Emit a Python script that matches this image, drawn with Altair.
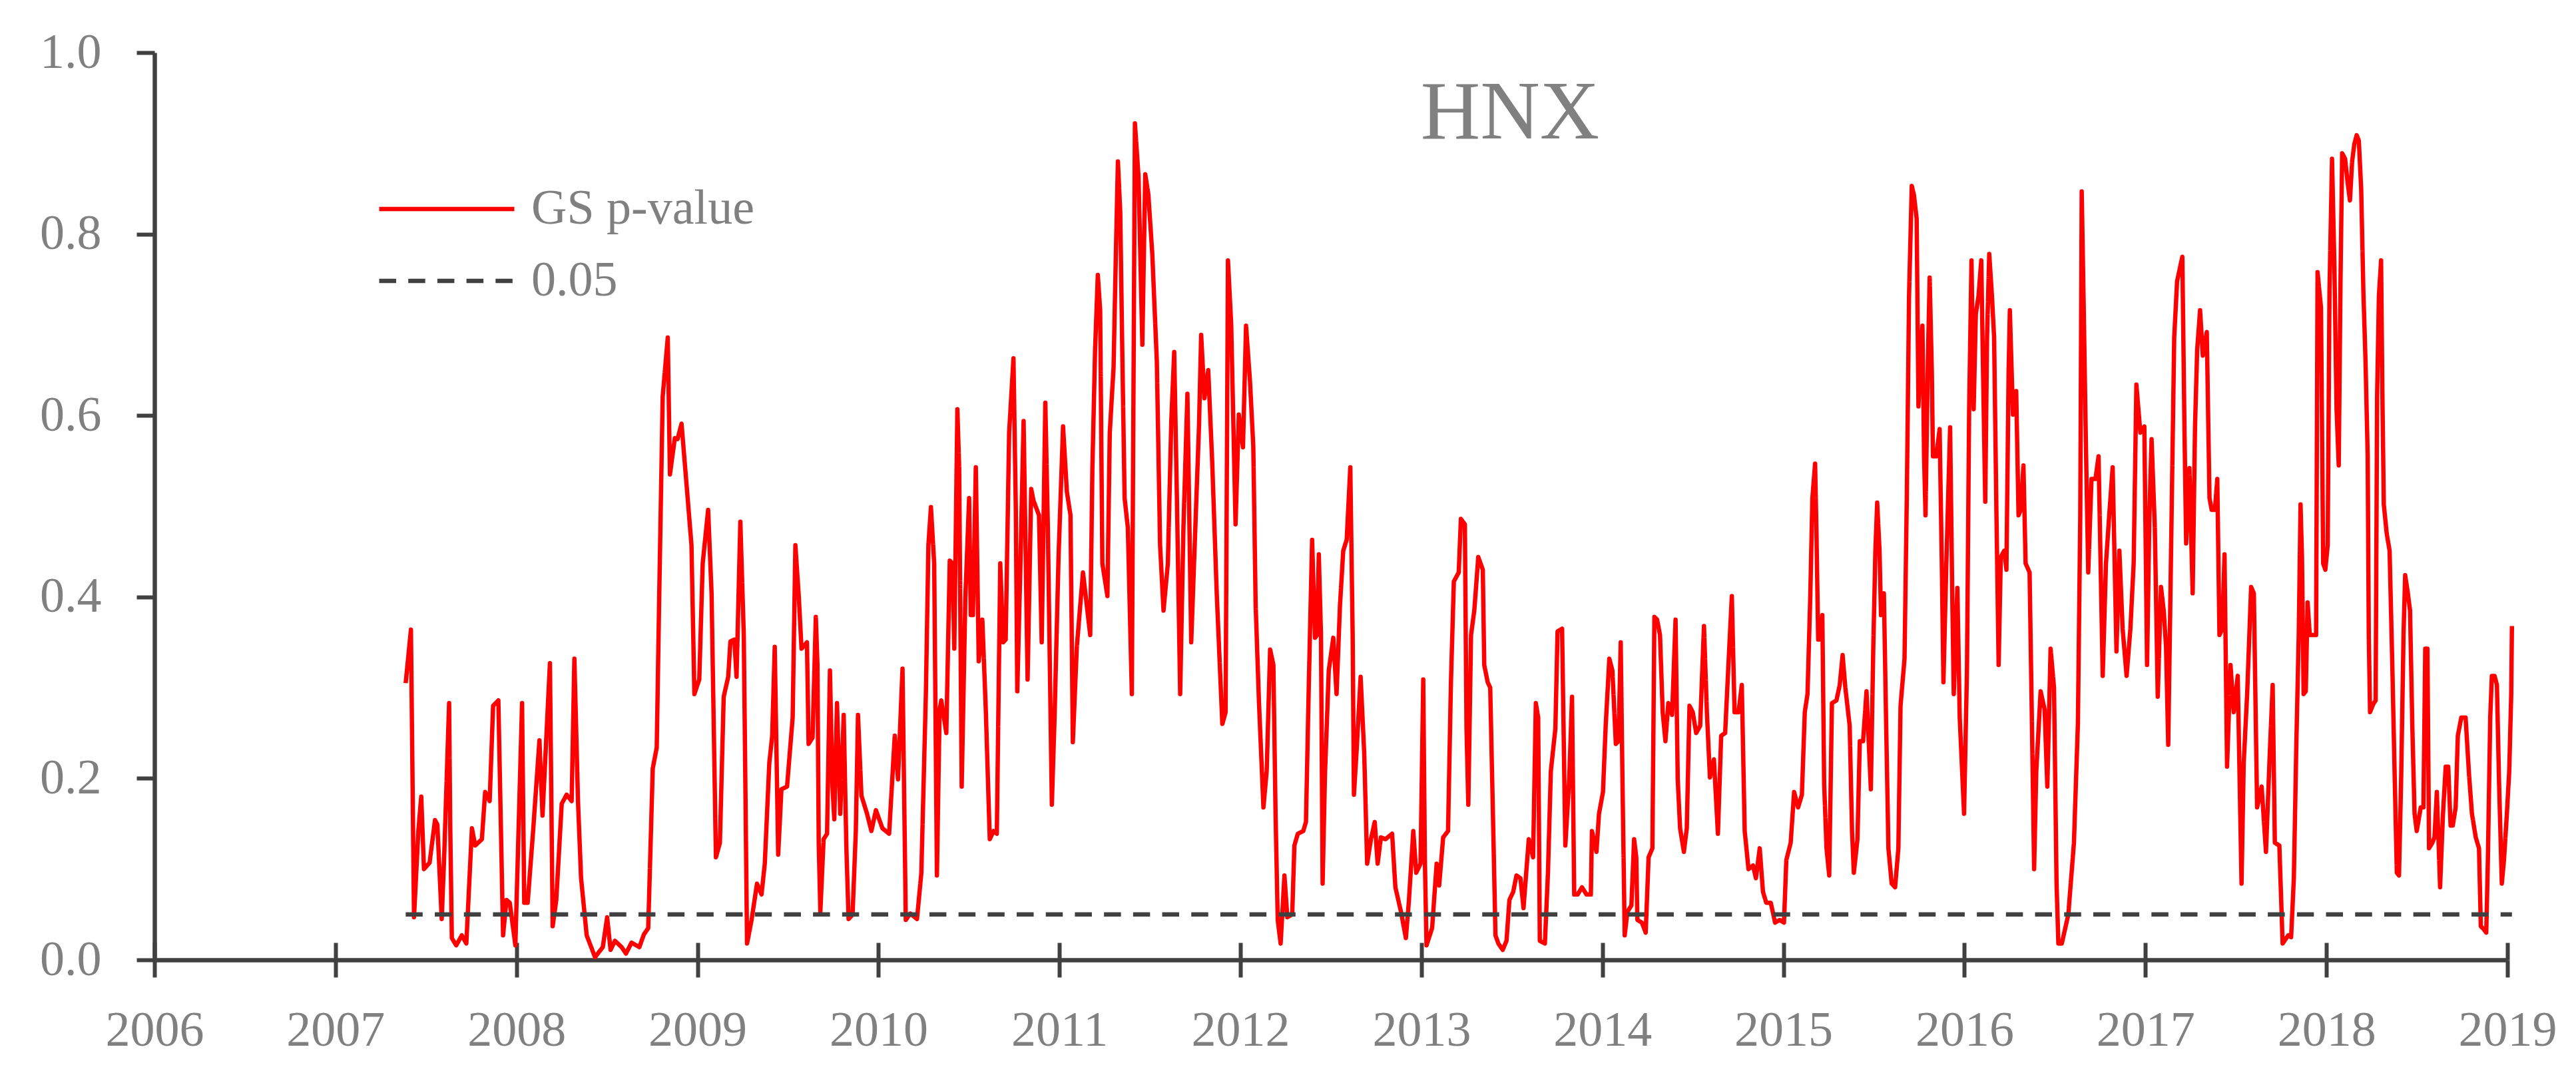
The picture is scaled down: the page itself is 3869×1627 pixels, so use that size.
import altair as alt
import pandas as pd

# ---------------- data ----------------
dates = [
    2007.388, 2007.417, 2007.434, 2007.458, 2007.474, 2007.489, 2007.520, 2007.550, 2007.563, 2007.587,
    2007.600, 2007.628, 2007.634, 2007.643, 2007.667, 2007.698, 2007.723, 2007.754, 2007.772, 2007.809,
    2007.827, 2007.852, 2007.871, 2007.900, 2007.926, 2007.945, 2007.963, 2007.994, 2008.031, 2008.043,
    2008.062, 2008.092, 2008.127, 2008.144, 2008.185, 2008.200, 2008.220, 2008.250, 2008.277, 2008.305,
    2008.320, 2008.340, 2008.357, 2008.388, 2008.434, 2008.477, 2008.501, 2008.520, 2008.544, 2008.581,
    2008.605, 2008.636, 2008.679, 2008.704, 2008.728, 2008.753, 2008.775, 2008.789, 2008.808, 2008.836,
    2008.848, 2008.875, 2008.890, 2008.912, 2008.943, 2008.967, 2008.983, 2009.010, 2009.029, 2009.059,
    2009.078, 2009.102, 2009.124, 2009.145, 2009.170, 2009.182, 2009.204, 2009.216, 2009.237, 2009.256,
    2009.274, 2009.299, 2009.329, 2009.354, 2009.372, 2009.397, 2009.413, 2009.427, 2009.446, 2009.464,
    2009.495, 2009.526, 2009.541, 2009.560, 2009.575, 2009.605, 2009.614, 2009.636, 2009.654, 2009.663,
    2009.670, 2009.679, 2009.697, 2009.716, 2009.732, 2009.746, 2009.756, 2009.771, 2009.789, 2009.808,
    2009.823, 2009.835, 2009.857, 2009.875, 2009.887, 2009.906, 2009.937, 2009.961, 2009.986, 2010.022,
    2010.059, 2010.090, 2010.108, 2010.133, 2010.151, 2010.176, 2010.213, 2010.237, 2010.262, 2010.276,
    2010.290, 2010.308, 2010.323, 2010.338, 2010.347, 2010.375, 2010.394, 2010.409, 2010.419, 2010.436,
    2010.446, 2010.460, 2010.480, 2010.501, 2010.510, 2010.522, 2010.538, 2010.554, 2010.574, 2010.593,
    2010.615, 2010.636, 2010.654, 2010.673, 2010.689, 2010.703, 2010.722, 2010.746, 2010.759, 2010.767,
    2010.783, 2010.802, 2010.824, 2010.844, 2010.857, 2010.887, 2010.902, 2010.922, 2010.936, 2010.958,
    2010.973, 2010.995, 2011.020, 2011.041, 2011.061, 2011.074, 2011.096, 2011.130, 2011.170, 2011.182,
    2011.197, 2011.212, 2011.225, 2011.237, 2011.265, 2011.278, 2011.299, 2011.311, 2011.323, 2011.336,
    2011.347, 2011.360, 2011.378, 2011.400, 2011.417, 2011.437, 2011.458, 2011.474, 2011.491, 2011.513,
    2011.538, 2011.556, 2011.575, 2011.599, 2011.618, 2011.634, 2011.649, 2011.667, 2011.685, 2011.707,
    2011.728, 2011.746, 2011.771, 2011.783, 2011.801, 2011.822, 2011.844, 2011.869, 2011.900, 2011.918,
    2011.931, 2011.949, 2011.973, 2011.991, 2012.014, 2012.031, 2012.053, 2012.071, 2012.084, 2012.102,
    2012.127, 2012.145, 2012.164, 2012.182, 2012.194, 2012.206, 2012.222, 2012.243, 2012.259, 2012.286,
    2012.298, 2012.317, 2012.347, 2012.362, 2012.378, 2012.396, 2012.412, 2012.423, 2012.433, 2012.445,
    2012.454, 2012.467, 2012.488, 2012.513, 2012.531, 2012.550, 2012.568, 2012.587, 2012.607, 2012.620,
    2012.627, 2012.642, 2012.664, 2012.684, 2012.700, 2012.721, 2012.742, 2012.758, 2012.776, 2012.801,
    2012.838, 2012.856, 2012.887, 2012.914, 2012.930, 2012.955, 2012.971, 2012.995, 2013.010, 2013.019,
    2013.028, 2013.059, 2013.084, 2013.098, 2013.120, 2013.147, 2013.163, 2013.179, 2013.206, 2013.218,
    2013.240, 2013.249, 2013.259, 2013.274, 2013.292, 2013.314, 2013.339, 2013.347, 2013.366, 2013.380,
    2013.397, 2013.409, 2013.425, 2013.449, 2013.470, 2013.486, 2013.507, 2013.525, 2013.547, 2013.564,
    2013.593, 2013.617, 2013.632, 2013.645, 2013.654, 2013.682, 2013.699, 2013.715, 2013.740, 2013.752,
    2013.777, 2013.795, 2013.817, 2013.832, 2013.844, 2013.863, 2013.887, 2013.912, 2013.936, 2013.942,
    2013.967, 2013.981, 2014.003, 2014.018, 2014.038, 2014.055, 2014.074, 2014.089, 2014.101, 2014.111,
    2014.123, 2014.138, 2014.160, 2014.175, 2014.187, 2014.193, 2014.218, 2014.239, 2014.255, 2014.276,
    2014.287, 2014.302, 2014.318, 2014.333, 2014.348, 2014.364, 2014.385, 2014.404, 2014.416, 2014.429,
    2014.450, 2014.466, 2014.481, 2014.499, 2014.518, 2014.540, 2014.561, 2014.577, 2014.594, 2014.616,
    2014.638, 2014.656, 2014.678, 2014.696, 2014.715, 2014.730, 2014.752, 2014.770, 2014.786, 2014.807,
    2014.832, 2014.848, 2014.869, 2014.887, 2014.905, 2014.930, 2014.954, 2014.979, 2015.003, 2015.016,
    2015.040, 2015.059, 2015.081, 2015.102, 2015.118, 2015.133, 2015.148, 2015.160, 2015.175, 2015.182,
    2015.192, 2015.206, 2015.215, 2015.225, 2015.238, 2015.253, 2015.268, 2015.293, 2015.311, 2015.327,
    2015.342, 2015.366, 2015.379, 2015.389, 2015.409, 2015.422, 2015.440, 2015.459, 2015.471, 2015.483,
    2015.496, 2015.508, 2015.518, 2015.531, 2015.539, 2015.555, 2015.568, 2015.580, 2015.598, 2015.617,
    2015.635, 2015.647, 2015.669, 2015.682, 2015.694, 2015.709, 2015.721, 2015.736, 2015.746, 2015.758,
    2015.768, 2015.777, 2015.785, 2015.798, 2015.808, 2015.820, 2015.826, 2015.844, 2015.863, 2015.875,
    2015.884, 2015.900, 2015.921, 2015.933, 2015.941, 2015.961, 2015.974, 2015.998, 2016.014, 2016.026,
    2016.039, 2016.051, 2016.063, 2016.078, 2016.093, 2016.103, 2016.115, 2016.125, 2016.137, 2016.152,
    2016.164, 2016.177, 2016.189, 2016.201, 2016.220, 2016.232, 2016.244, 2016.251, 2016.268, 2016.286,
    2016.299, 2016.311, 2016.326, 2016.338, 2016.360, 2016.372, 2016.385, 2016.397, 2016.421, 2016.443,
    2016.458, 2016.476, 2016.495, 2016.509, 2016.519, 2016.538, 2016.574, 2016.605, 2016.627, 2016.640,
    2016.648, 2016.659, 2016.671, 2016.684, 2016.702, 2016.724, 2016.741, 2016.751, 2016.764, 2016.782,
    2016.800, 2016.819, 2016.840, 2016.856, 2016.874, 2016.896, 2016.917, 2016.935, 2016.950, 2016.972,
    2016.994, 2017.009, 2017.022, 2017.034, 2017.052, 2017.068, 2017.086, 2017.101, 2017.114, 2017.126,
    2017.145, 2017.159, 2017.175, 2017.204, 2017.216, 2017.225, 2017.243, 2017.261, 2017.274, 2017.286,
    2017.302, 2017.317, 2017.339, 2017.354, 2017.366, 2017.384, 2017.397, 2017.409, 2017.425, 2017.437,
    2017.451, 2017.470, 2017.488, 2017.510, 2017.531, 2017.543, 2017.562, 2017.584, 2017.599, 2017.617,
    2017.642, 2017.666, 2017.687, 2017.703, 2017.715, 2017.740, 2017.758, 2017.789, 2017.805, 2017.820,
    2017.834, 2017.847, 2017.857, 2017.865, 2017.874, 2017.886, 2017.896, 2017.908, 2017.943, 2017.951,
    2017.970, 2017.982, 2017.994, 2018.007, 2018.017, 2018.031, 2018.044, 2018.056, 2018.068, 2018.078,
    2018.087, 2018.103, 2018.117, 2018.130, 2018.142, 2018.154, 2018.167, 2018.179, 2018.192, 2018.204,
    2018.216, 2018.228, 2018.234, 2018.241, 2018.259, 2018.272, 2018.280, 2018.290, 2018.302, 2018.309,
    2018.317, 2018.333, 2018.349, 2018.364, 2018.376, 2018.389, 2018.401, 2018.413, 2018.426, 2018.435,
    2018.450, 2018.462, 2018.475, 2018.487, 2018.499, 2018.521, 2018.536, 2018.546, 2018.558, 2018.567,
    2018.585, 2018.597, 2018.610, 2018.619, 2018.628, 2018.644, 2018.659, 2018.673, 2018.686, 2018.698,
    2018.714, 2018.726, 2018.745, 2018.769, 2018.788, 2018.804, 2018.825, 2018.843, 2018.853, 2018.868,
    2018.883, 2018.892, 2018.905, 2018.914, 2018.929, 2018.942, 2018.954, 2018.969, 2018.981, 2018.997,
    2019.010, 2019.021, 2019.025,
]

p_values = [
    0.305, 0.364, 0.047, 0.142, 0.180, 0.100, 0.107, 0.154, 0.149, 0.045,
    0.110, 0.283, 0.149, 0.024, 0.016, 0.027, 0.018, 0.145, 0.126, 0.133,
    0.185, 0.175, 0.280, 0.286, 0.027, 0.066, 0.063, 0.016, 0.283, 0.063,
    0.063, 0.142, 0.242, 0.159, 0.327, 0.037, 0.066, 0.172, 0.182, 0.175,
    0.332, 0.175, 0.090, 0.027, 0.003, 0.014, 0.047, 0.011, 0.021, 0.014,
    0.007, 0.019, 0.014, 0.028, 0.035, 0.211, 0.234, 0.404, 0.621, 0.686,
    0.535, 0.575, 0.574, 0.591, 0.516, 0.457, 0.293, 0.309, 0.437, 0.496,
    0.404, 0.113, 0.129, 0.290, 0.312, 0.351, 0.353, 0.312, 0.483, 0.358,
    0.018, 0.044, 0.084, 0.072, 0.106, 0.217, 0.247, 0.345, 0.116, 0.188,
    0.191, 0.267, 0.457, 0.400, 0.343, 0.350, 0.238, 0.245, 0.378, 0.325,
    0.129, 0.053, 0.133, 0.139, 0.319, 0.191, 0.155, 0.283, 0.161, 0.270,
    0.122, 0.045, 0.050, 0.142, 0.270, 0.181, 0.161, 0.142, 0.165, 0.145,
    0.139, 0.247, 0.199, 0.321, 0.044, 0.051, 0.045, 0.096, 0.293, 0.457,
    0.499, 0.437, 0.093, 0.276, 0.286, 0.250, 0.440, 0.437, 0.343, 0.607,
    0.542, 0.191, 0.398, 0.509, 0.380, 0.380, 0.543, 0.329, 0.375, 0.276,
    0.133, 0.142, 0.139, 0.437, 0.350, 0.353, 0.581, 0.663, 0.496, 0.296,
    0.424, 0.594, 0.309, 0.519, 0.506, 0.490, 0.350, 0.614, 0.476, 0.171,
    0.267, 0.444, 0.588, 0.516, 0.490, 0.240, 0.345, 0.427, 0.358, 0.542,
    0.673, 0.755, 0.716, 0.437, 0.401, 0.581, 0.653, 0.771, 0.880, 0.824,
    0.673, 0.509, 0.476, 0.293, 0.922, 0.863, 0.678, 0.866, 0.844, 0.778,
    0.660, 0.457, 0.385, 0.437, 0.594, 0.670, 0.509, 0.293, 0.476, 0.624,
    0.350, 0.450, 0.588, 0.689, 0.619, 0.650, 0.549, 0.404, 0.260, 0.273,
    0.771, 0.700, 0.480, 0.601, 0.565, 0.699, 0.637, 0.566, 0.391, 0.286,
    0.168, 0.208, 0.342, 0.325, 0.161, 0.044, 0.018, 0.093, 0.047, 0.050,
    0.126, 0.139, 0.142, 0.152, 0.306, 0.463, 0.355, 0.358, 0.447, 0.358,
    0.084, 0.204, 0.319, 0.355, 0.293, 0.391, 0.451, 0.463, 0.543, 0.358,
    0.182, 0.231, 0.312, 0.227, 0.106, 0.133, 0.152, 0.106, 0.135, 0.133,
    0.139, 0.080, 0.053, 0.024, 0.063, 0.142, 0.096, 0.106, 0.309, 0.110,
    0.016, 0.035, 0.106, 0.082, 0.135, 0.142, 0.306, 0.417, 0.427, 0.486,
    0.480, 0.255, 0.171, 0.358, 0.385, 0.444, 0.430, 0.325, 0.306, 0.300,
    0.142, 0.027, 0.018, 0.011, 0.021, 0.066, 0.075, 0.093, 0.090, 0.057,
    0.133, 0.113, 0.283, 0.267, 0.021, 0.018, 0.096, 0.208, 0.255, 0.362,
    0.365, 0.126, 0.201, 0.290, 0.072, 0.072, 0.080, 0.072, 0.072, 0.142,
    0.119, 0.161, 0.185, 0.258, 0.332, 0.319, 0.238, 0.241, 0.350, 0.194,
    0.027, 0.053, 0.060, 0.133, 0.113, 0.044, 0.041, 0.030, 0.113, 0.123,
    0.378, 0.375, 0.358, 0.273, 0.241, 0.283, 0.270, 0.375, 0.199, 0.145,
    0.119, 0.145, 0.280, 0.273, 0.250, 0.258, 0.368, 0.273, 0.201, 0.221,
    0.139, 0.247, 0.250, 0.325, 0.401, 0.273, 0.273, 0.303, 0.142, 0.100,
    0.104, 0.090, 0.123, 0.075, 0.063, 0.063, 0.041, 0.044, 0.041, 0.110,
    0.129, 0.185, 0.168, 0.182, 0.273, 0.293, 0.398, 0.509, 0.547, 0.476,
    0.353, 0.353, 0.380, 0.194, 0.123, 0.093, 0.283, 0.286, 0.303, 0.336,
    0.300, 0.258, 0.142, 0.096, 0.133, 0.241, 0.241, 0.296, 0.241, 0.188,
    0.340, 0.451, 0.504, 0.451, 0.380, 0.404, 0.254, 0.123, 0.084, 0.080,
    0.123, 0.280, 0.332, 0.516, 0.732, 0.853, 0.843, 0.817, 0.610, 0.670,
    0.699, 0.555, 0.490, 0.660, 0.752, 0.647, 0.555, 0.555, 0.585, 0.437,
    0.306, 0.437, 0.587, 0.398, 0.293, 0.410, 0.267, 0.161, 0.319, 0.607,
    0.771, 0.607, 0.712, 0.732, 0.771, 0.647, 0.505, 0.686, 0.778, 0.732,
    0.686, 0.490, 0.325, 0.444, 0.451, 0.430, 0.647, 0.716, 0.601, 0.627,
    0.490, 0.496, 0.545, 0.437, 0.427, 0.273, 0.100, 0.208, 0.296, 0.276,
    0.191, 0.343, 0.300, 0.084, 0.018, 0.018, 0.050, 0.129, 0.261, 0.490,
    0.847, 0.720, 0.570, 0.427, 0.530, 0.530, 0.555, 0.451, 0.313, 0.437,
    0.490, 0.543, 0.340, 0.451, 0.365, 0.313, 0.365, 0.437, 0.634, 0.581,
    0.588, 0.325, 0.490, 0.574, 0.476, 0.290, 0.411, 0.385, 0.345, 0.237,
    0.496, 0.686, 0.748, 0.775, 0.581, 0.459, 0.542, 0.404, 0.588, 0.673,
    0.716, 0.666, 0.692, 0.509, 0.496, 0.496, 0.530, 0.358, 0.365, 0.447,
    0.213, 0.325, 0.273, 0.313, 0.084, 0.217, 0.293, 0.411, 0.404, 0.168,
    0.191, 0.119, 0.227, 0.303, 0.129, 0.126, 0.018, 0.027, 0.025, 0.090,
    0.240, 0.358, 0.502, 0.444, 0.293, 0.296, 0.394, 0.358, 0.358, 0.758,
    0.719, 0.437, 0.430, 0.457, 0.738, 0.883, 0.765, 0.607, 0.545, 0.752,
    0.889, 0.883, 0.857, 0.837, 0.880, 0.899, 0.909, 0.903, 0.850, 0.738,
    0.660, 0.555, 0.358, 0.273, 0.282, 0.286, 0.621, 0.732, 0.771, 0.627,
    0.502, 0.470, 0.451, 0.325, 0.213, 0.096, 0.093, 0.201, 0.358, 0.424,
    0.404, 0.385, 0.254, 0.161, 0.142, 0.168, 0.168, 0.343, 0.343, 0.123,
    0.129, 0.135, 0.185, 0.133, 0.080, 0.161, 0.213, 0.213, 0.148, 0.148,
    0.168, 0.247, 0.267, 0.267, 0.204, 0.161, 0.135, 0.123, 0.037, 0.034,
    0.030, 0.110, 0.267, 0.313, 0.313, 0.303, 0.194, 0.084, 0.110, 0.161,
    0.208, 0.293, 0.368,
]

series_names = ["GS p-value", "0.05"]
threshold = 0.05
x_ticks = list(range(2006, 2020))
y_ticks = [0.0, 0.2, 0.4, 0.6, 0.8, 1.0]
title_text = "HNX"

# ---------------- frames ----------------
df_gs = pd.DataFrame({"date": dates, "value": p_values, "series": series_names[0]})
df_th = pd.DataFrame({"date": [dates[0], dates[-1]], "value": [threshold, threshold],
                      "series": series_names[1]})
df = pd.concat([df_gs, df_th], ignore_index=True)
df_ticks = pd.DataFrame({"date": x_ticks})
df_title = pd.DataFrame({"label": [title_text]})

FONT = "Liberation Serif"
TXT = "#808080"
AX = "#404040"
W, H = 3534, 1363

x_scale = alt.Scale(domain=[2006, 2019], nice=False, zero=False)

line = alt.Chart(df).mark_line(strokeWidth=6.5, strokeJoin="round").encode(
    x=alt.X("date:Q", scale=x_scale, title=None,
            axis=alt.Axis(values=x_ticks, format="d", labelFlush=False, labelOverlap=False,
                          grid=False, domainColor=AX, domainWidth=6.5, tickColor=AX,
                          tickWidth=6, tickSize=26, labelPadding=44, labelFont=FONT,
                          labelFontSize=74, labelColor=TXT, labelLimit=1000, orient="bottom")),
    y=alt.Y("value:Q", scale=alt.Scale(domain=[0, 1], nice=False), title=None,
            axis=alt.Axis(values=y_ticks, format=".1f", grid=False, domainColor=AX,
                          domainWidth=6.5, tickColor=AX, tickWidth=6, tickSize=27,
                          labelPadding=53, labelFont=FONT, labelFontSize=74,
                          labelColor=TXT, labelLimit=1000)),
    color=alt.Color("series:N",
                    scale=alt.Scale(domain=series_names, range=["#ff0000", AX]),
                    legend=alt.Legend(title=None, orient="none", legendX=334, legendY=198,
                                      symbolType="stroke", symbolSize=41209,
                                      symbolStrokeWidth=6.5, clipHeight=74, rowPadding=34,
                                      labelOffset=22, labelFont=FONT, labelFontSize=74,
                                      labelColor=TXT, labelLimit=1000, padding=0)),
    strokeDash=alt.StrokeDash("series:N",
                              scale=alt.Scale(domain=series_names, range=[[1, 0], [25.5, 18.2]]),
                              legend=alt.Legend(title=None, orient="none", legendX=334, legendY=198,
                                                symbolType="stroke", symbolSize=41209,
                                                symbolStrokeWidth=6.5, clipHeight=74,
                                                rowPadding=34, labelOffset=22, labelFont=FONT,
                                                labelFontSize=74, labelColor=TXT,
                                                labelLimit=1000, padding=0)),
)

# inner half of the x ticks (ticks cross the axis line in the reference)
inner_ticks = alt.Chart(df_ticks).mark_point(opacity=0).encode(
    x=alt.X("date:Q", scale=x_scale, title=None,
            axis=alt.Axis(values=x_ticks, orient="bottom", offset=-26, tickSize=26,
                          tickWidth=6, tickColor=AX, domain=False, labels=False, grid=False)),
)

title = alt.Chart(df_title).mark_text(font=FONT, fontSize=124, color=TXT, align="center",
                                      baseline="alphabetic").encode(
    text="label:N", x=alt.value(2036), y=alt.value(129)
)

chart = alt.layer(line, inner_ticks, title).resolve_axis(x="independent").properties(
    width=W, height=H, padding={"left": 51, "top": 34, "right": 5, "bottom": 5},
    background="white",
).configure_view(strokeWidth=0)

chart.save("out.html", embed_options={"renderer": "svg", "actions": False})
